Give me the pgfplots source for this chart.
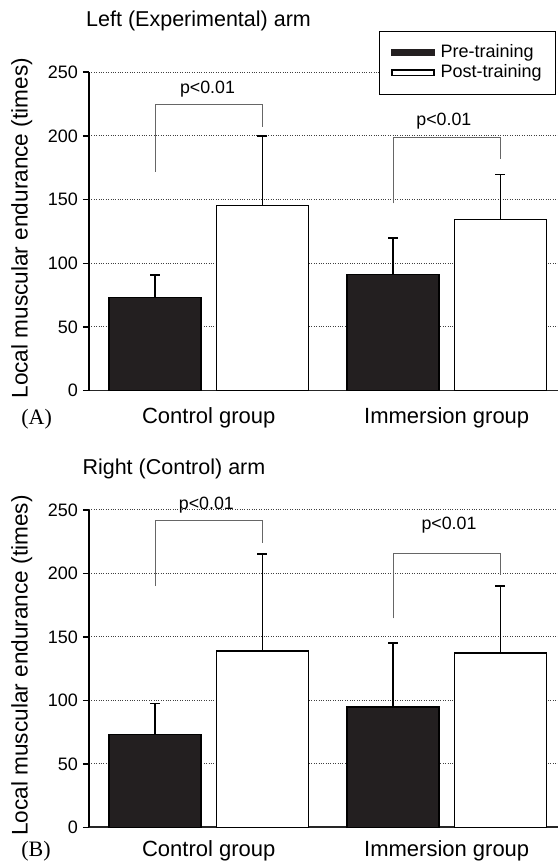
\documentclass[border=0pt]{standalone}
\usepackage{fontspec}
\setmainfont{Liberation Sans}
\newfontfamily\timesfont{Liberation Serif}
\usepackage{pgfplots}
\pgfplotsset{compat=1.18}
\definecolor{barblack}{HTML}{231F20}
\definecolor{brgray}{HTML}{666666}
\newcommand{\fs}[1]{\fontsize{#1}{1.2\dimexpr#1\relax}\selectfont}
\begin{document}
\begin{tikzpicture}
\pgfplotsset{
  myaxis/.style={
    scale only axis,
    anchor=south west,
    axis x line=bottom, axis y line=left,
    axis line style={-},
    x axis line style={line width=1.6bp, black!85},
    y axis line style={line width=2bp, black},
    ymin=0, ymax=250,
    ytick={0,50,...,250},
    xtick={0,1},
    xticklabels={Control group, Immersion group},
    tick align=outside,
    major tick length=6bp,
    ytick style={line width=1.5bp, black},
    xtick style={draw=none},
    ymajorgrids,
    grid style={dotted, line width=1bp, black!75},
    /pgf/number format/assume math mode=true,
    yticklabel style={font=\fs{18bp}, xshift=-1.5bp},
    ylabel={Local muscular endurance (times)},
    ylabel style={font=\fs{22.6bp}, at={(axis description cs:-0.1435,0.51)}, anchor=center},
    ybar, bar width=0.3866, bar shift=0pt,
    clip=false,
    xmin=-0.503, xmax=1.4676,
  },
  errstyle/.style={
    error bars/y dir=plus, error bars/y explicit, error bars/error mark=-,
    error bars/error bar style={line width=1.5bp, black},
    error bars/error mark options={rotate=90, line width=1.5bp, mark size=5bp, black}},
  preplot/.style={fill=barblack, draw=black, line width=1.5bp, errstyle},
  postplot/.style={fill=white, draw=black, line width=1.5bp, errstyle},
}
% ---------------- Panel A ----------------
\begin{axis}[myaxis,
  at={(89bp,471.3bp)}, width=469bp, height=318.5bp,
  xticklabel style={font=\fs{22bp}, anchor=base, yshift=-26.5bp},
  title={Left (Experimental) arm},
  title style={font=\fs{21.5bp}, at={(axis description cs:-0.0134,1.1253)}, anchor=base west},
  legend style={at={(axis description cs:0.619,1.1294)}, anchor=north west,
    draw=black, line width=0.8bp, fill=white, font=\fs{18bp},
    inner xsep=11.5bp, inner ysep=11.5bp, row sep=0bp, column sep=4bp,
    nodes={inner sep=2bp, text height=12.5bp, text depth=3.5bp}},
  legend cell align=left,
]
\addplot+[preplot, legend image code/.code={\fill[barblack] (0bp,-2.7bp) rectangle (42bp,2.7bp);}]
  coordinates {(-0.2256,73.3) +- (0,17.5) (0.7744,91.3) +- (0,28.7)};
\addlegendentry{Pre-training}
\addplot+[postplot, legend image code/.code={\draw[black, line width=1.3bp, fill=white] (0bp,-2.9bp) rectangle (42bp,2.9bp);}]
  coordinates {(0.2256,145.2) +- (0,54.8) (1.2256,134.5) +- (0,35.3)};
\addlegendentry{Post-training}
\draw[brgray, line width=1bp] (axis cs:-0.2256,172) -- (axis cs:-0.2256,224.3) -- (axis cs:0.2256,224.3) -- (axis cs:0.2256,207.2);
\node[font=\fs{17.8bp}, anchor=base] at (axis cs:-0.005,233.4) {p<0.01};
\draw[brgray, line width=1bp] (axis cs:0.7744,147.1) -- (axis cs:0.7744,198.9) -- (axis cs:1.2256,198.9) -- (axis cs:1.2256,181.6);
\node[font=\fs{17.8bp}, anchor=base] at (axis cs:0.988,208.5) {p<0.01};
\node[font=\timesfont\fs{22bp}, anchor=base west] at (axis description cs:-0.1518,-0.1077) {(A)};
\end{axis}
% ---------------- Panel B ----------------
\begin{axis}[myaxis,
  at={(89bp,34.7bp)}, width=469bp, height=317.3bp,
  xticklabel style={font=\fs{22bp}, anchor=base, yshift=-23.2bp},
  title={Right (Control) arm},
  title style={font=\fs{21.5bp}, at={(axis description cs:-0.0213,1.0923)}, anchor=base west},
]
\addplot+[preplot]
  coordinates {(-0.2256,73.2) +- (0,24.4) (0.7744,94.7) +- (0,50.7)};
\addplot+[postplot]
  coordinates {(0.2256,139.0) +- (0,76.2) (1.2256,137.5) +- (0,52.7)};
\draw[brgray, line width=1bp] (axis cs:-0.2256,190) -- (axis cs:-0.2256,242) -- (axis cs:0.2256,242) -- (axis cs:0.2256,224);
\node[font=\fs{17.8bp}, anchor=base] at (axis cs:-0.01,250) {p<0.01};
\draw[brgray, line width=1bp] (axis cs:0.7744,164.6) -- (axis cs:0.7744,215.7) -- (axis cs:1.2256,215.7) -- (axis cs:1.2256,198.7);
\node[font=\fs{17.8bp}, anchor=base] at (axis cs:1.0097,234.6) {p<0.01};
\node[font=\timesfont\fs{22bp}, anchor=base west] at (axis description cs:-0.1518,-0.092) {(B)};
\end{axis}
\pgfresetboundingbox
\useasboundingbox (0,0) rectangle (558bp,862bp);
\end{tikzpicture}
\end{document}
